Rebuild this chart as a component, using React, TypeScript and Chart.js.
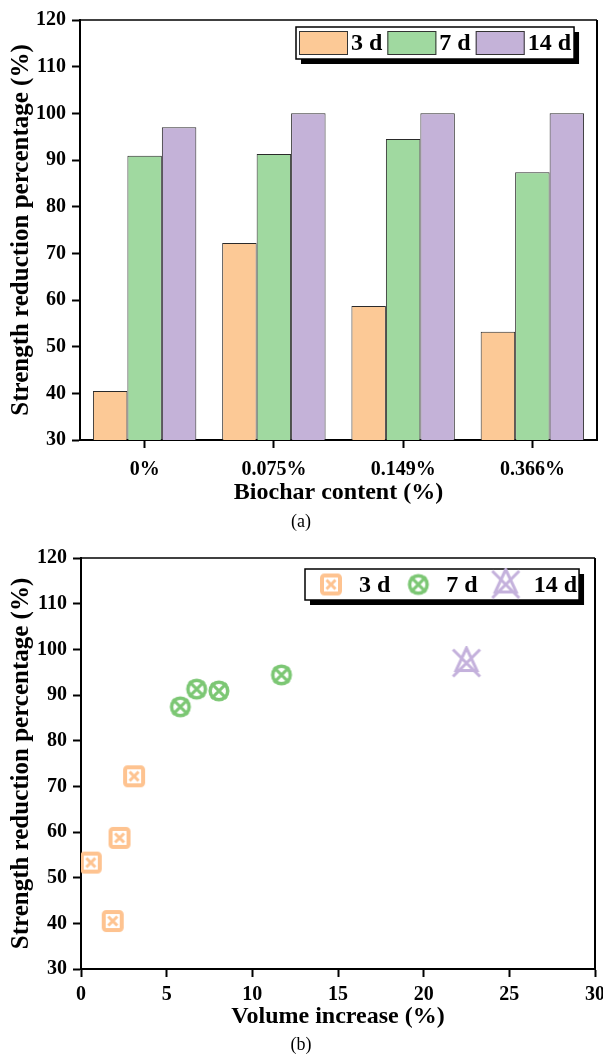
import React, { useEffect, useRef } from 'react';
import { Chart, registerables } from 'chart.js';
Chart.register(...registerables);

const FONT = '"Liberation Serif", "Times New Roman", serif';

// ---- data: bar chart (a)
const categories = ['0%', '0.075%', '0.149%', '0.366%'];
const seriesLabels = ['3 d', '7 d', '14 d'];
const bar3d = [40.5, 72.2, 58.7, 53.2];
const bar7d = [90.9, 91.3, 94.5, 87.4];
const bar14d = [97.0, 100, 100, 100];

// ---- data: scatter chart (b)
const vol3d = [1.85, 3.1, 2.25, 0.57];
const red3d = [40.5, 72.2, 58.7, 53.3];
const vol7d = [5.8, 6.75, 8.05, 11.7];
const red7d = [87.4, 91.3, 90.9, 94.4];
const vol14d = [22.5];
const red14d = [97.0];

const yMin = 30;
const yMax = 120;
const yStep = 10;
const xMin = 0;
const xMax = 30;
const xStep = 5;

const barColors = ['#FCC996', '#A0D9A0', '#C4B2D8'];
const markerColors = ['#FEC390', '#7CC774', '#C4B1DC'];

function makeSquareX(color: string) {
  const c = document.createElement('canvas');
  c.width = 24; c.height = 24;
  const g = c.getContext('2d')!;
  g.strokeStyle = color;
  g.lineWidth = 4;
  g.lineJoin = 'round';
  g.beginPath();
  (g as any).roundRect ? (g as any).roundRect(3, 3, 18, 18, 2.5) : g.rect(3, 3, 18, 18);
  g.stroke();
  g.lineWidth = 3;
  g.beginPath();
  g.moveTo(7.5, 7.5); g.lineTo(16.5, 16.5);
  g.moveTo(16.5, 7.5); g.lineTo(7.5, 16.5);
  g.stroke();
  return c;
}

function makeCircleX(color: string) {
  const c = document.createElement('canvas');
  c.width = 26; c.height = 26;
  const g = c.getContext('2d')!;
  g.strokeStyle = color;
  g.lineWidth = 3.5;
  g.beginPath();
  g.arc(13, 13, 8.8, 0, Math.PI * 2);
  g.stroke();
  g.lineWidth = 3;
  const d = 7.6;
  g.beginPath();
  g.moveTo(13 - d, 13 - d); g.lineTo(13 + d, 13 + d);
  g.moveTo(13 + d, 13 - d); g.lineTo(13 - d, 13 + d);
  g.stroke();
  return c;
}

function makeTriangleX(color: string) {
  const c = document.createElement('canvas');
  c.width = 32; c.height = 34;
  const g = c.getContext('2d')!;
  g.strokeStyle = color;
  g.lineWidth = 3;
  g.lineJoin = 'miter';
  const cx = 16, cy = 17;
  g.beginPath();
  g.moveTo(cx, cy - 15);
  g.lineTo(cx - 10.5, cy + 7.5);
  g.lineTo(cx + 10.5, cy + 7.5);
  g.closePath();
  g.stroke();
  g.beginPath();
  g.moveTo(cx - 13.5, cy - 13.5); g.lineTo(cx + 13.5, cy + 13.5);
  g.moveTo(cx + 13.5, cy - 13.5); g.lineTo(cx - 13.5, cy + 13.5);
  g.stroke();
  return c;
}

const framePlugin = {
  id: 'frame',
  afterDraw(chart: any) {
    const { ctx, chartArea: a } = chart;
    ctx.save();
    ctx.strokeStyle = '#000';
    ctx.lineWidth = 1.5;
    ctx.beginPath();
    ctx.moveTo(a.left, a.top);
    ctx.lineTo(a.right, a.top);
    ctx.stroke();
    ctx.lineWidth = 2;
    ctx.beginPath();
    ctx.moveTo(a.right, a.top);
    ctx.lineTo(a.right, a.bottom);
    ctx.stroke();
    ctx.restore();
  },
};

const boxLegendPlugin = {
  id: 'boxLegend',
  afterDraw(chart: any, _args: any, opts: any) {
    if (!opts || !opts.show) return;
    const { ctx, chartArea: a } = chart;
    const datasets = chart.data.datasets;
    const x0 = a.left + opts.dx;
    const y0 = a.top + opts.dy;
    ctx.save();
    ctx.font = `bold ${opts.fontSize}px ${FONT}`;
    let w = opts.padL;
    const starts: number[] = [];
    datasets.forEach((ds: any) => {
      starts.push(w);
      const tw = ctx.measureText(ds.label).width;
      w += opts.symW + opts.gap + tw + opts.itemGap;
    });
    w = w - opts.itemGap + opts.padR;
    const h = opts.h;
    ctx.fillStyle = '#000';
    ctx.fillRect(x0 + opts.shadow, y0 + opts.shadow, w, h);
    ctx.fillStyle = '#fff';
    ctx.fillRect(x0, y0, w, h);
    ctx.strokeStyle = '#000';
    ctx.lineWidth = 1.5;
    ctx.strokeRect(x0, y0, w, h);
    const cy = y0 + h / 2;
    datasets.forEach((ds: any, i: number) => {
      const sx = x0 + starts[i];
      if (opts.mode === 'swatch') {
        ctx.fillStyle = ds.backgroundColor;
        ctx.fillRect(sx, cy - opts.swH / 2, opts.symW, opts.swH);
        ctx.strokeStyle = '#333';
        ctx.lineWidth = 1;
        ctx.strokeRect(sx + 0.5, cy - opts.swH / 2 + 0.5, opts.symW - 1, opts.swH - 1);
      } else {
        const img = ds.pointStyle as HTMLCanvasElement;
        ctx.drawImage(img, sx + opts.symW / 2 - img.width / 2, cy - img.height / 2);
      }
      ctx.fillStyle = '#000';
      ctx.textAlign = 'left';
      ctx.textBaseline = 'middle';
      ctx.fillText(ds.label, sx + opts.symW + opts.gap, cy + 1);
    });
    ctx.restore();
  },
};

const tickFont = { family: FONT, size: 20, weight: 'bold' as const };
const xTitleFont = { family: FONT, size: 24, weight: 'bold' as const };
const yTitleFont = { family: FONT, size: 25, weight: 'bold' as const };

function axisGrid() {
  return {
    display: true,
    drawOnChartArea: false,
    drawTicks: true,
    tickLength: 8,
    tickWidth: 2,
    tickColor: '#000',
  };
}

function barConfig(): any {
  return {
    type: 'bar',
    data: {
      labels: categories,
      datasets: [
        { label: seriesLabels[0], data: bar3d, backgroundColor: barColors[0] },
        { label: seriesLabels[1], data: bar7d, backgroundColor: barColors[1] },
        { label: seriesLabels[2], data: bar14d, backgroundColor: barColors[2] },
      ].map((d) => ({ ...d, borderColor: '#2a2a2a', borderWidth: 1, categoryPercentage: 0.8, barPercentage: 1.0 })),
    },
    options: {
      animation: false,
      responsive: false,
      devicePixelRatio: 1,
      events: [],
      layout: { padding: { top: 20, right: 6, left: 0, bottom: 0 } },
      plugins: {
        legend: { display: false },
        tooltip: { enabled: false },
        boxLegend: { show: true, mode: 'swatch', dx: 216, dy: 7, h: 32, padL: 3, symW: 49, swH: 24, gap: 3, itemGap: 5, padR: 3, fontSize: 24, shadow: 5 },
      },
      scales: {
        x: {
          type: 'category',
          offset: true,
          grid: { ...axisGrid(), offset: false },
          border: { display: true, color: '#000', width: 2 },
          ticks: { font: tickFont, color: '#000', padding: 10 },
          title: { display: true, text: 'Biochar content (%)', font: xTitleFont, color: '#000', padding: { top: 0, bottom: 28 } },
          afterFit: (s: any) => { s.height = 95; },
        },
        y: {
          min: yMin,
          max: yMax,
          grid: axisGrid(),
          border: { display: true, color: '#000', width: 2 },
          ticks: { stepSize: yStep, font: tickFont, color: '#000', padding: 6 },
          title: { display: true, text: 'Strength reduction percentage (%)', font: yTitleFont, color: '#000', padding: { top: 7, bottom: 0 } },
          afterFit: (s: any) => { s.width = 80; },
        },
      },
    },
    plugins: [framePlugin, boxLegendPlugin],
  };
}

function scatterConfig(): any {
  const styles = [makeSquareX(markerColors[0]), makeCircleX(markerColors[1]), makeTriangleX(markerColors[2])];
  const pts = (xs: number[], ys: number[]) => xs.map((x, i) => ({ x, y: ys[i] }));
  return {
    type: 'scatter',
    data: {
      datasets: [
        { label: seriesLabels[0], data: pts(vol3d, red3d), pointStyle: styles[0] },
        { label: seriesLabels[1], data: pts(vol7d, red7d), pointStyle: styles[1] },
        { label: seriesLabels[2], data: pts(vol14d, red14d), pointStyle: styles[2] },
      ],
    },
    options: {
      animation: false,
      responsive: false,
      devicePixelRatio: 1,
      events: [],
      layout: { padding: { top: 16, right: 8, left: 0, bottom: 0 } },
      plugins: {
        legend: { display: false },
        tooltip: { enabled: false },
        boxLegend: { show: true, mode: 'marker', dx: 224, dy: 11, h: 31, padL: 2, symW: 48, gap: 4, itemGap: 4, padR: 2, fontSize: 24, shadow: 5 },
      },
      scales: {
        x: {
          type: 'linear',
          min: xMin,
          max: xMax,
          grid: axisGrid(),
          border: { display: true, color: '#000', width: 2 },
          ticks: { stepSize: xStep, font: tickFont, color: '#000', padding: 6 },
          title: { display: true, text: 'Volume increase (%)', font: xTitleFont, color: '#000', padding: { top: 0, bottom: 23 } },
          afterFit: (s: any) => { s.height = 85; s.paddingRight = 0; s.paddingLeft = 0; },
        },
        y: {
          min: yMin,
          max: yMax,
          grid: axisGrid(),
          border: { display: true, color: '#000', width: 2 },
          ticks: { stepSize: yStep, font: tickFont, color: '#000', padding: 6 },
          title: { display: true, text: 'Strength reduction percentage (%)', font: yTitleFont, color: '#000', padding: { top: 7, bottom: 0 } },
          afterFit: (s: any) => { s.width = 81; },
        },
      },
    },
    plugins: [framePlugin, boxLegendPlugin],
  };
}

function ChartCanvas({ make, top, height }: { make: () => any; top: number; height: number }) {
  const ref = useRef<HTMLCanvasElement>(null);
  useEffect(() => {
    const chart = new Chart(ref.current!, make());
    return () => chart.destroy();
  }, []);
  return (
    <canvas
      ref={ref}
      width={603}
      height={height}
      style={{ position: 'absolute', left: 0, top, width: 603, height, display: 'block' }}
    />
  );
}

function Caption({ text, centerY }: { text: string; centerY: number }) {
  return (
    <div
      style={{
        position: 'absolute',
        left: 251,
        width: 100,
        top: centerY - 11,
        height: 22,
        lineHeight: '22px',
        textAlign: 'center',
        fontFamily: FONT,
        fontSize: 18,
        color: '#000',
      }}
    >
      {text}
    </div>
  );
}

export default function App() {
  return (
    <div style={{ position: 'absolute', left: 0, top: 0, width: 603, height: 1054, overflow: 'hidden', background: '#fff' }}>
      <ChartCanvas make={barConfig} top={0} height={535} />
      <ChartCanvas make={scatterConfig} top={540} height={514} />
      <Caption text="(a)" centerY={521} />
      <Caption text="(b)" centerY={1044} />
    </div>
  );
}
